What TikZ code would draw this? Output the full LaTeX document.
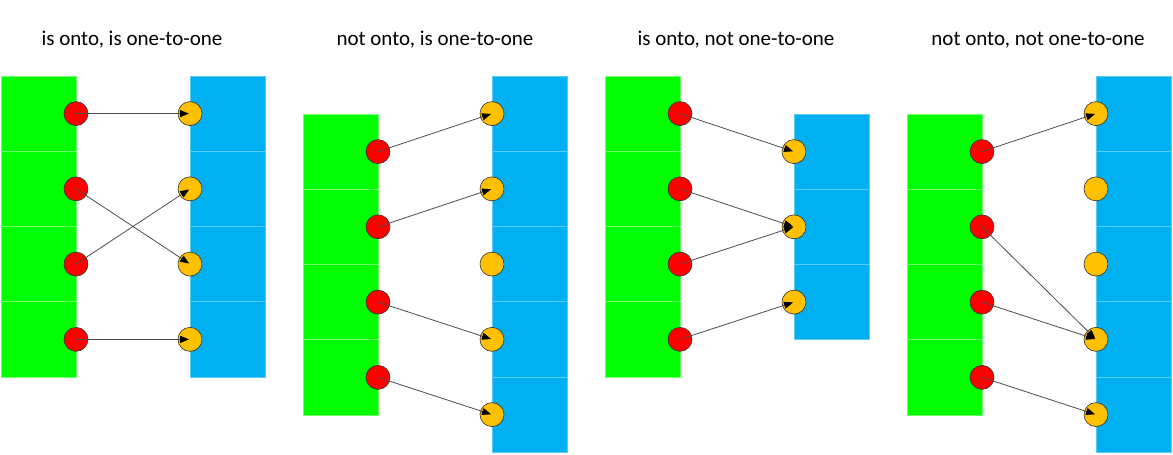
\documentclass[tikz,border=0pt]{standalone}
\usepackage{fontspec}
\setmainfont{Carlito}
\usetikzlibrary{arrows.meta}

\definecolor{domgreen}{RGB}{0,255,0}
\definecolor{codblue}{RGB}{0,176,240}
\definecolor{dotred}{RGB}{255,0,0}
\definecolor{dotyellow}{RGB}{255,192,0}

\tikzset{
  domcell/.style={fill=domgreen, draw=domgreen!55!white, line width=0.6pt},
  codcell/.style={fill=codblue, draw=codblue!65!white, line width=0.6pt},
  srcdot/.style={circle, fill=dotred, draw=black!80, line width=0.6pt, inner sep=0pt, minimum size=24pt},
  dstdot/.style={circle, fill=dotyellow, draw=black!80, line width=0.6pt, inner sep=0pt, minimum size=24pt},
  maparrow/.style={draw=black!70, line width=0.8pt, -{Triangle[length=9pt,width=7pt,black]}, shorten >=1pt},
  caption/.style={font=\fontsize{21}{25}\selectfont, anchor=base}
}

\begin{document}
\begin{tikzpicture}[x=1pt, y=-1pt]
    \useasboundingbox (0,0) rectangle (1173,455);

    % titles
    \node[caption] (t1) at (132,45) {is onto, is one-to-one};
    \node[caption] (t2) at (435,45) {not onto, is one-to-one};
    \node[caption] (t3) at (736,45) {is onto, not one-to-one};
    \node[caption] (t4) at (1038,45) {not onto, not one-to-one};

    % panel 1
    \foreach \k in {0,...,3} {
        \draw[domcell] (1,76+75.25*\k) rectangle ++(75,75.25);
        \draw[codcell] (190,76+75.25*\k) rectangle ++(75,75.25);
    }
    \foreach \k in {1,...,4} {
        \node[srcdot] (p1d\k) at (76,113.6+75.25*\k-75.25) {};
        \node[dstdot] (p1c\k) at (190,113.6+75.25*\k-75.25) {};
    }
    \draw[maparrow] (p1d1.center) -- (p1c1.center);
    \draw[maparrow] (p1d2.center) -- (p1c3.center);
    \draw[maparrow] (p1d3.center) -- (p1c2.center);
    \draw[maparrow] (p1d4.center) -- (p1c4.center);

    % panel 2
    \foreach \k in {0,...,3}
        \draw[domcell] (303,114+75.25*\k) rectangle ++(75,75.25);
    \foreach \k in {0,...,4}
        \draw[codcell] (492,76+75.25*\k) rectangle ++(75,75.25);
    \foreach \k in {1,...,4}
        \node[srcdot] (p2d\k) at (378,151.6+75.25*\k-75.25) {};
    \foreach \k in {1,...,5}
        \node[dstdot] (p2c\k) at (492,113.6+75.25*\k-75.25) {};
    \draw[maparrow] (p2d1.center) -- (p2c1.center);
    \draw[maparrow] (p2d2.center) -- (p2c2.center);
    \draw[maparrow] (p2d3.center) -- (p2c4.center);
    \draw[maparrow] (p2d4.center) -- (p2c5.center);

    % panel 3
    \foreach \k in {0,...,3}
        \draw[domcell] (605,76+75.25*\k) rectangle ++(75,75.25);
    \foreach \k in {0,...,2}
        \draw[codcell] (794,114+75.25*\k) rectangle ++(75,75.25);
    \foreach \k in {1,...,4}
        \node[srcdot] (p3d\k) at (680,113.6+75.25*\k-75.25) {};
    \foreach \k in {1,...,3}
        \node[dstdot] (p3c\k) at (794,151.6+75.25*\k-75.25) {};
    \draw[maparrow] (p3d1.center) -- (p3c1.center);
    \draw[maparrow] (p3d2.center) -- (p3c2.center);
    \draw[maparrow] (p3d3.center) -- (p3c2.center);
    \draw[maparrow] (p3d4.center) -- (p3c3.center);

    % panel 4
    \foreach \k in {0,...,3}
        \draw[domcell] (907,114+75.25*\k) rectangle ++(75,75.25);
    \foreach \k in {0,...,4}
        \draw[codcell] (1096,76+75.25*\k) rectangle ++(75,75.25);
    \foreach \k in {1,...,4}
        \node[srcdot] (p4d\k) at (982,151.6+75.25*\k-75.25) {};
    \foreach \k in {1,...,5}
        \node[dstdot] (p4c\k) at (1096,113.6+75.25*\k-75.25) {};
    \draw[maparrow] (p4d1.center) -- (p4c1.center);
    \draw[maparrow] (p4d2.center) -- (p4c4.center);
    \draw[maparrow] (p4d3.center) -- (p4c4.center);
    \draw[maparrow] (p4d4.center) -- (p4c5.center);
\end{tikzpicture}
\end{document}
